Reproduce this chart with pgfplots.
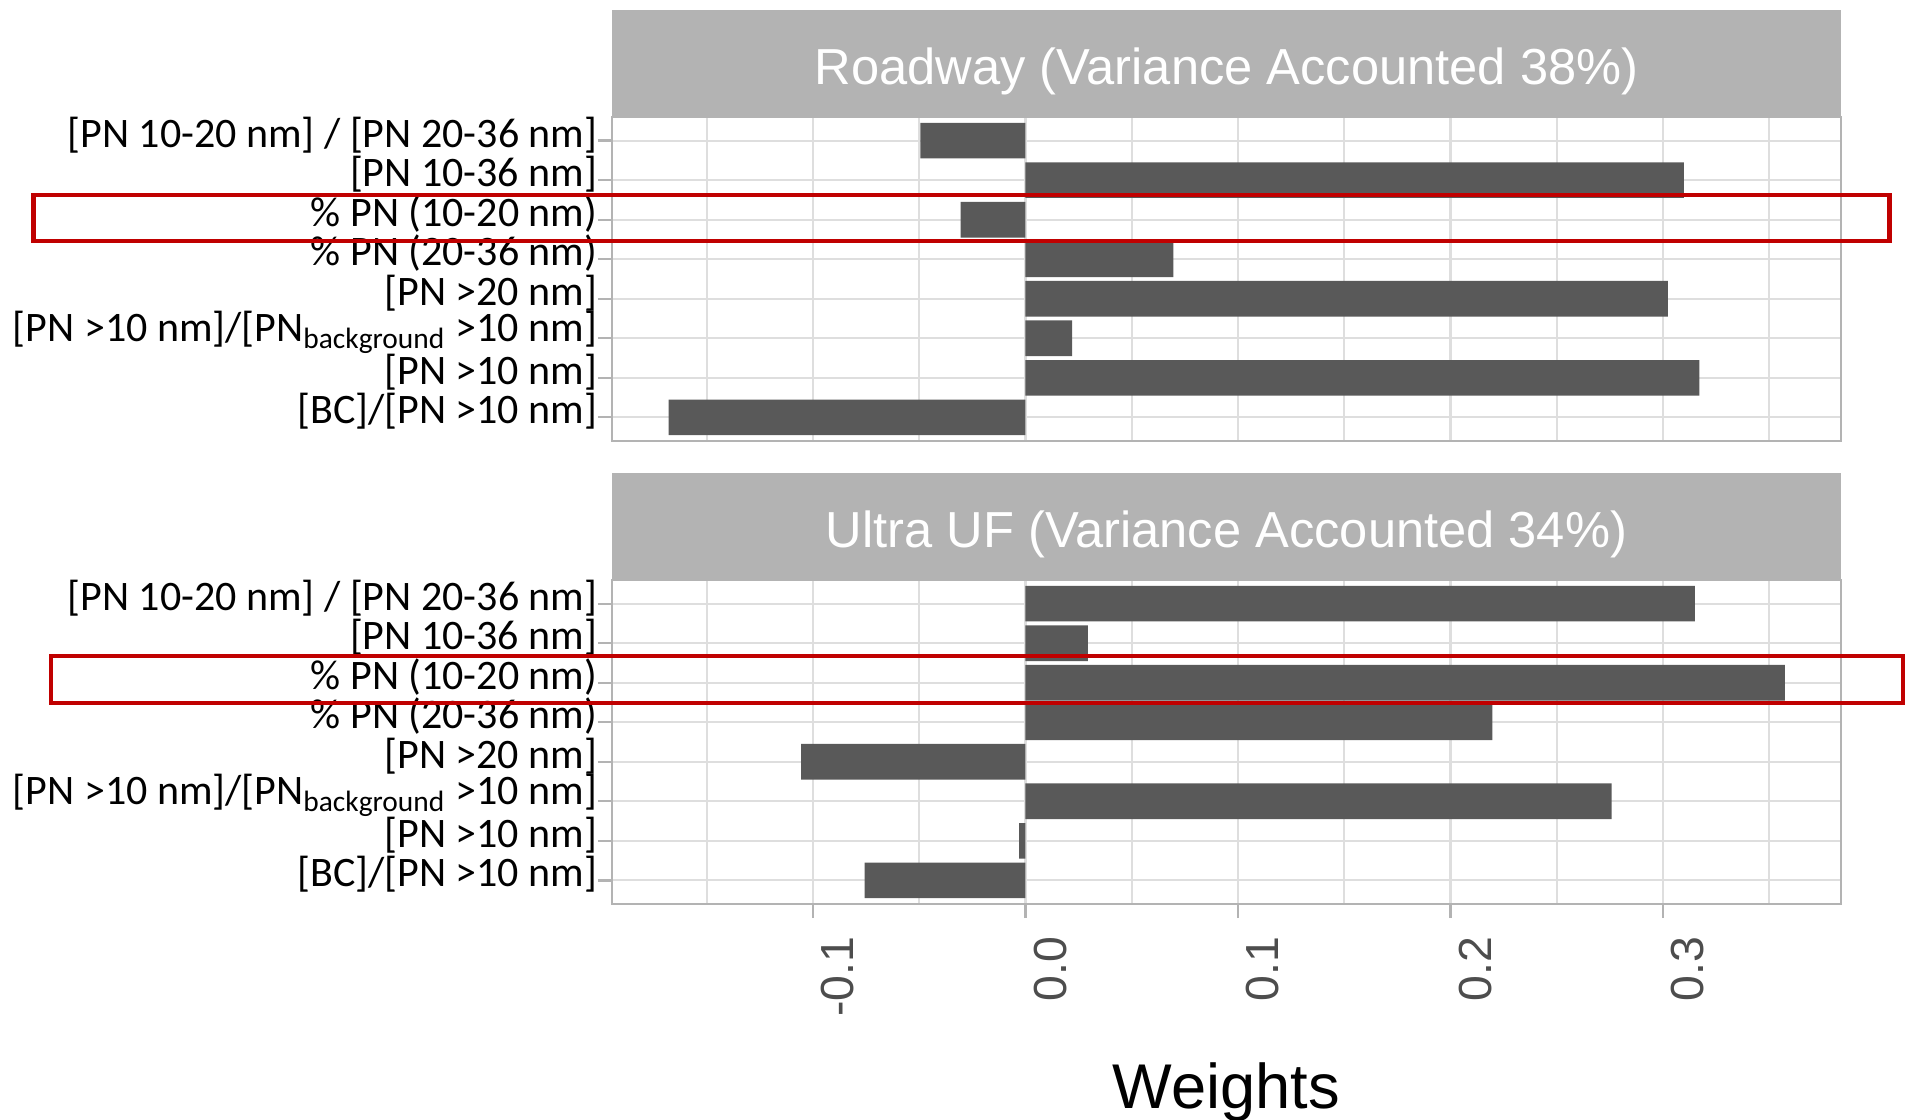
\documentclass[border=0pt]{standalone}
\usepackage{pgfplots}
\pgfplotsset{compat=1.18}
\usepackage{pgfplotstable}
\usepackage{fontspec}
\setmainfont{Carlito}
\newfontfamily\arial{Liberation Sans}

\definecolor{stripgray}{HTML}{B3B3B3}
\definecolor{gridc}{HTML}{DEDEDE}
\definecolor{axtext}{HTML}{4D4D4D}
\definecolor{barc}{HTML}{595959}
\definecolor{boxred}{HTML}{C00000}

% row 8 = top category, row 1 = bottom
\pgfplotstableread{
row w
8 -0.0495
7 0.3098
6 -0.0305
5 0.0696
4 0.3023
3 0.0220
2 0.3172
1 -0.1679
}\roadway

\pgfplotstableread{
row w
8 0.3150
7 0.0294
6 0.3574
5 0.2197
4 -0.1056
3 0.2759
2 -0.0030
1 -0.0757
}\ultra

\pgfplotsset{
  panel/.style={
    scale only axis, width=307.25pt, height=81pt,
    xmin=-0.1946, xmax=0.3838, ymin=0.4, ymax=8.6,
    axis line style={draw=stripgray, line width=0.6pt},
    xtick={-0.1,0,0.1,0.2,0.3},
    minor xtick={-0.15,-0.05,0.05,0.15,0.25,0.35},
    ytick={1,...,8},
    yticklabels={{[BC]/[PN >10 nm]},{[PN >10 nm]},{[PN >10 nm]/[PN\textsubscript{background} >10 nm]},{[PN >20 nm]},{\% PN (20-36 nm)},{\% PN (10-20 nm)},{[PN 10-36 nm]},{[PN 10-20 nm] / [PN 20-36 nm]}},
    grid=both,
    major grid style={gridc, line width=0.55pt},
    minor grid style={gridc, line width=0.4pt},
    tick align=outside, major tick length=3.5pt, minor tick length=0pt,
    tick style={stripgray, line width=0.6pt},
    xtick pos=bottom, ytick pos=left,
    yticklabel style={anchor=east, inner sep=0pt, xshift=0pt, yshift=1.5pt,
      font=\fontsize{10.5}{12}\selectfont},
    clip=false,
  },
}

\begin{document}
\begin{tikzpicture}
\useasboundingbox (0,0) rectangle (479pt,-280pt);

\begin{axis}[panel, name=top, at={(153pt,-29.25pt)}, anchor=north west,
  xticklabels={}, xtick style={draw=none}]
\addplot[xbar, bar width=0.9, fill=barc, draw=none] table[x=w, y=row] {\roadway};
\fill[stripgray] (rel axis cs:0,1) rectangle ([yshift=26.75pt]rel axis cs:1,1);
\node[text=white, font=\arial\fontsize{12.66}{14}\selectfont]
  at ([yshift=11.3pt]rel axis cs:0.5,1) {Roadway (Variance Accounted 38\%)};
\draw[boxred, line width=1.15pt] (axis cs:-0.4669,5.462) rectangle (axis cs:0.4066,6.626);
\end{axis}

\begin{axis}[panel, name=bottom, at={(153pt,-145pt)}, anchor=north west,
  xticklabels={-0.1,0.0,0.1,0.2,0.3},
  xticklabel style={rotate=90, anchor=east, inner sep=0pt, xshift=-4.5pt, yshift=-6.25pt,
    text=axtext, font=\arial\fontsize{11.6}{13}\selectfont},
  xlabel={Weights},
  xlabel style={at={(axis description cs:0.5,0)}, anchor=center, yshift=-47pt,
    font=\arial\fontsize{15.8}{18}\selectfont}]
\addplot[xbar, bar width=0.9, fill=barc, draw=none] table[x=w, y=row] {\ultra};
\fill[stripgray] (rel axis cs:0,1) rectangle ([yshift=26.75pt]rel axis cs:1,1);
\node[text=white, font=\arial\fontsize{12.66}{14}\selectfont]
  at ([yshift=11.3pt]rel axis cs:0.5,1) {Ultra UF (Variance Accounted 34\%)};
\draw[boxred, line width=1.15pt] (axis cs:-0.4586,5.487) rectangle (axis cs:0.4129,6.676);
\end{axis}
\end{tikzpicture}
\end{document}
